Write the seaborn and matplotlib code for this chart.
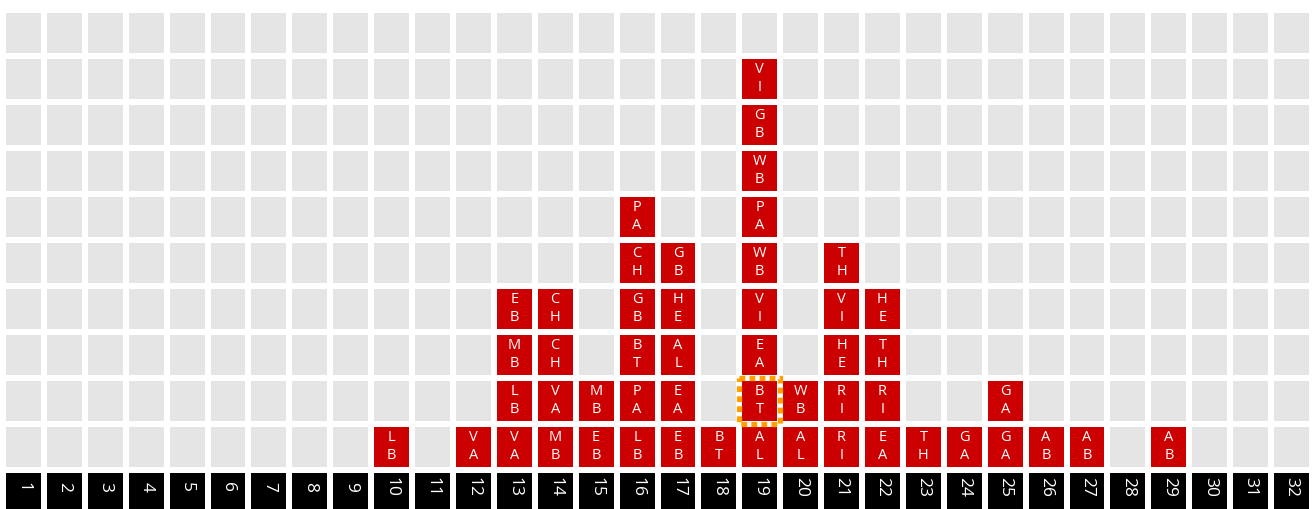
import matplotlib
matplotlib.use("Agg")
import matplotlib.pyplot as plt
from matplotlib.colors import ListedColormap
from matplotlib.patches import Rectangle
import numpy as np
import pandas as pd
import seaborn as sns

# ---- data ----
columns = list(range(1, 33))
n_rows = 10
# stacks per column, listed bottom to top
stack_cols = [10, 12, 13, 14, 15, 16, 17, 18, 19, 20, 21, 22, 23, 24, 25, 26, 27, 29]
stack_codes = [
    ["LB"],
    ["VA"],
    ["VA", "LB", "MB", "EB"],
    ["MB", "VA", "CH", "CH"],
    ["EB", "MB"],
    ["LB", "PA", "BT", "GB", "CH", "PA"],
    ["EB", "EA", "AL", "HE", "GB"],
    ["BT"],
    ["AL", "BT", "EA", "VI", "WB", "PA", "WB", "GB", "VI"],
    ["AL", "WB"],
    ["RI", "RI", "HE", "VI", "TH"],
    ["EA", "RI", "TH", "HE"],
    ["TH"],
    ["GA"],
    ["GA", "GA"],
    ["AB"],
    ["AB"],
    ["AB"],
]
highlight_col = 19
highlight_level = 2  # 1 = bottom

# ---- build matrix: rows 0..9 grid (top->bottom), row 10 = number row ----
mat = np.zeros((n_rows + 1, len(columns)))
labels = {}
for c, codes in zip(stack_cols, stack_codes):
    j = columns.index(c)
    for lvl, code in enumerate(codes, start=1):
        i = n_rows - lvl
        mat[i, j] = 1
        labels[(i, j)] = code
mat[n_rows, :] = 2
df = pd.DataFrame(mat, columns=columns)

sns.set_theme(style="white")
plt.rcParams["font.family"] = ["Open Sans", "DejaVu Sans"]

W, H = 1316, 509
fig = plt.figure(figsize=(W / 100, H / 100), dpi=100)
ax = fig.add_axes([3 / W, -6.5 / H, 1309 / W, 506 / H])
cmap = ListedColormap(["#E5E5E5", "#CC0000", "#000000"])
sns.heatmap(df, ax=ax, cmap=cmap, vmin=-0.5, vmax=2.5, cbar=False,
            linewidths=4.0, linecolor="white", xticklabels=False, yticklabels=False)

for (i, j), code in labels.items():
    ax.text(j + 0.5, i + 0.30, code[0], ha="center", va="center",
            color="white", fontsize=10.5)
    ax.text(j + 0.5, i + 0.69, code[1], ha="center", va="center",
            color="white", fontsize=10.5)

for j, c in enumerate(columns):
    ax.text(j + 0.5, n_rows + 0.37, str(c), ha="center", va="center",
            color="white", fontsize=12.5, rotation=270)

# highlighted cell border
hj = columns.index(highlight_col)
hi = n_rows - highlight_level
ax.add_patch(Rectangle((hj, hi), 1, 1, fill=False,
                       edgecolor="#FFA000", linewidth=3.8, linestyle=(0, (1.1, 0.8)),
                       zorder=5, clip_on=False))

ax.set_xlabel("")
ax.set_ylabel("")
fig.savefig("out.png", dpi=100)
